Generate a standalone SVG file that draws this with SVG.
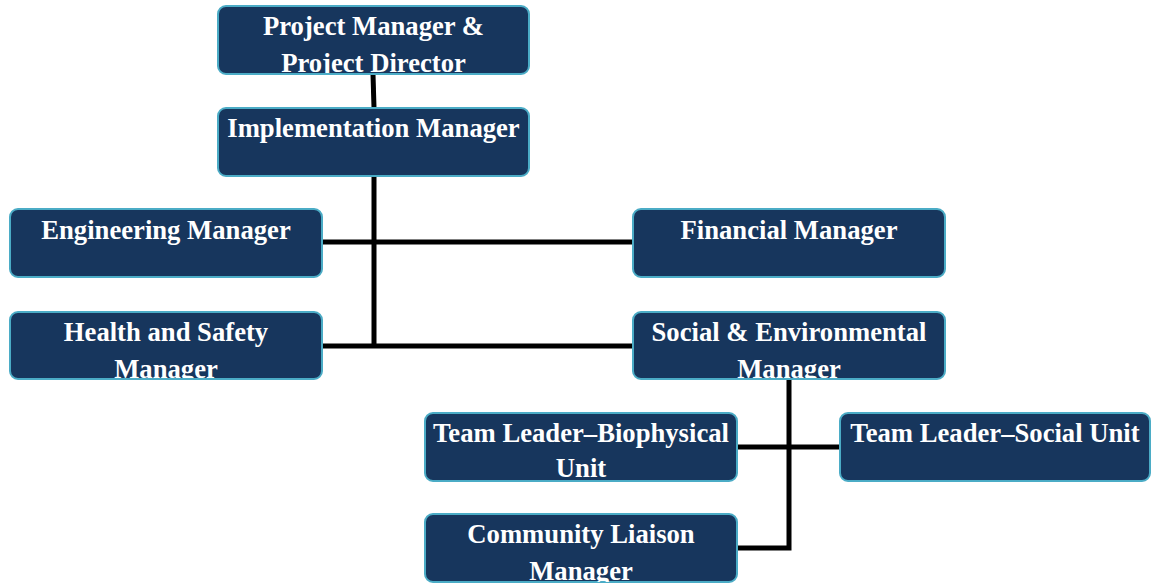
<svg xmlns="http://www.w3.org/2000/svg" width="1151" height="584" viewBox="0 0 1151 584">
<style>
.box{fill:#17365D;stroke:#4BACC6;stroke-width:2}
.t{font-family:"Liberation Serif","Times New Roman",serif;font-weight:bold;font-size:26.67px;fill:#FFFFFF;text-anchor:middle}
.c{stroke:#000;stroke-width:5;fill:none}
</style>
<defs>
<clipPath id="cp1"><rect x="218" y="6" width="311" height="67"/></clipPath>
<clipPath id="cp2"><rect x="10" y="312" width="312" height="66"/></clipPath>
<clipPath id="cp3"><rect x="633" y="312" width="312" height="66"/></clipPath>
<clipPath id="cp4"><rect x="425" y="514" width="312" height="68"/></clipPath>
</defs>
<rect width="1151" height="584" fill="#FFFFFF"/>
<g id="connectors">
<line class="c" x1="373" y1="74" x2="374" y2="108"/>
<line class="c" x1="374" y1="176" x2="374" y2="348"/>
<line class="c" x1="322" y1="242" x2="633" y2="242"/>
<line class="c" x1="322" y1="346" x2="633" y2="346"/>
<polyline class="c" points="789,379 789,548 737,548"/>
<line class="c" x1="737" y1="447" x2="840" y2="447"/>
</g>
<g id="pm">
<rect class="box" x="218" y="6" width="311" height="68" rx="8"/>
<g clip-path="url(#cp1)">
<text class="t" x="373.5" y="35">Project Manager &amp;</text>
<text class="t" x="373.5" y="71.5">Project Director</text>
</g>
</g>
<g id="impl">
<rect class="box" x="218" y="108" width="311" height="68" rx="8"/>
<text class="t" x="373.5" y="137">Implementation Manager</text>
</g>
<g id="eng">
<rect class="box" x="10" y="209" width="312" height="68" rx="8"/>
<text class="t" x="166" y="239">Engineering Manager</text>
</g>
<g id="fin">
<rect class="box" x="633" y="209" width="312" height="68" rx="8"/>
<text class="t" x="789" y="239">Financial Manager</text>
</g>
<g id="hs">
<rect class="box" x="10" y="312" width="312" height="67" rx="8"/>
<g clip-path="url(#cp2)">
<text class="t" x="166" y="341">Health and Safety</text>
<text class="t" x="166" y="377.5">Manager</text>
</g>
</g>
<g id="se">
<rect class="box" x="633" y="312" width="312" height="67" rx="8"/>
<g clip-path="url(#cp3)">
<text class="t" x="789" y="341">Social &amp; Environmental</text>
<text class="t" x="789" y="377.5">Manager</text>
</g>
</g>
<g id="tlbio">
<rect class="box" x="425" y="413" width="312" height="68" rx="8"/>
<text class="t" x="581" y="441.5">Team Leader–Biophysical</text>
<text class="t" x="581" y="477">Unit</text>
</g>
<g id="tlsoc">
<rect class="box" x="840" y="413" width="310" height="68" rx="8"/>
<text class="t" x="995" y="441.5">Team Leader–Social Unit</text>
</g>
<g id="cl">
<rect class="box" x="425" y="514" width="312" height="68" rx="8"/>
<g clip-path="url(#cp4)">
<text class="t" x="581" y="543">Community Liaison</text>
<text class="t" x="581" y="579.5">Manager</text>
</g>
</g>
</svg>
